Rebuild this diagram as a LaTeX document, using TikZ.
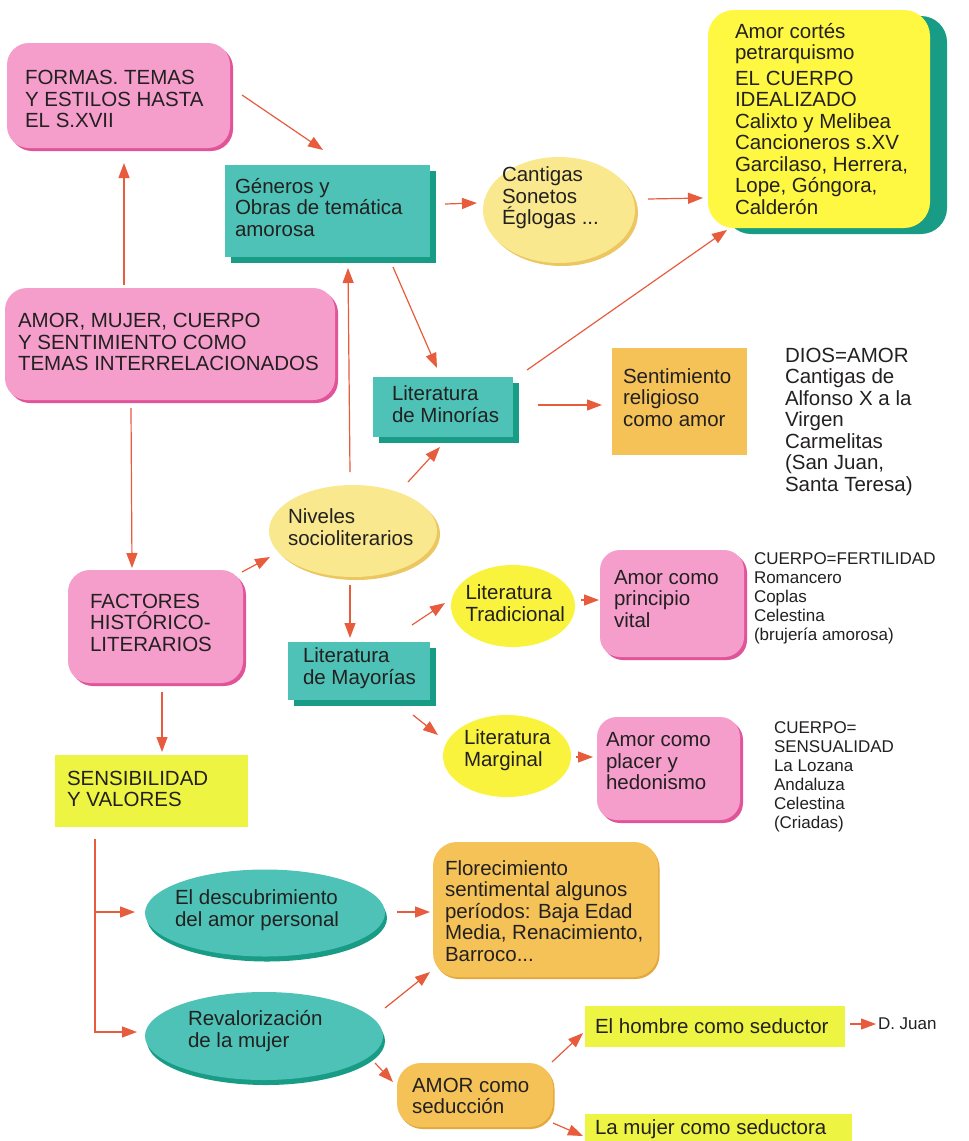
\documentclass[tikz,border=0pt]{standalone}
\usepackage{fontspec}
\setmainfont{Liberation Sans}
\usetikzlibrary{arrows.meta,shapes.geometric,shadows,calc}
\definecolor{pinkF}{RGB}{245,158,204}
\definecolor{pinkS}{RGB}{226,84,154}
\definecolor{tealF}{RGB}{78,194,182}
\definecolor{tealS}{RGB}{24,156,134}
\definecolor{creamF}{RGB}{249,232,142}
\definecolor{creamS}{RGB}{236,198,96}
\definecolor{lemonF}{RGB}{255,248,66}
\definecolor{yelF}{RGB}{250,243,62}
\definecolor{limeF}{RGB}{238,244,66}
\definecolor{orangeF}{RGB}{245,194,88}
\definecolor{orangeS}{RGB}{228,168,62}
\definecolor{arrowC}{RGB}{232,92,62}
\definecolor{txtC}{RGB}{35,32,32}
\tikzset{
  pinkbox/.style={rectangle, rounded corners=22pt, fill=pinkF,
    drop shadow={shadow xshift=3pt, shadow yshift=-3pt, fill=pinkS, opacity=1}},
  tealbox/.style={rectangle, fill=tealF,
    drop shadow={shadow xshift=6pt, shadow yshift=-6pt, fill=tealS, opacity=1}},
  creamell/.style={ellipse, fill=creamF,
    drop shadow={shadow xshift=3pt, shadow yshift=-3pt, fill=creamS, opacity=1}},
  yelell/.style={ellipse, fill=yelF},
  tealell/.style={ellipse, fill=tealF,
    drop shadow={shadow xshift=2pt, shadow yshift=-5pt, fill=tealS, opacity=1}},
  orangebox/.style={rectangle, fill=orangeF},
  orangeround/.style={rectangle, rounded corners=24pt, fill=orangeF,
    drop shadow={shadow xshift=1.5pt, shadow yshift=-2pt, fill=orangeS, opacity=1}},
  limebox/.style={rectangle, fill=limeF},
  sz/.style 2 args={minimum width=#1pt, minimum height=#2pt},
  note/.style={align=left, text=txtC, font=\fontsize{20.5}{21.5}\selectfont},
  notesm/.style={align=left, text=txtC, font=\fontsize{17}{19}\selectfont},
  arr/.style={draw=arrowC, line width=1.2pt, -{Triangle[length=15pt,width=11pt,fill=arrowC]}},
}
\begin{document}
\begin{tikzpicture}[x=1pt,y=-1pt,
  every node/.style={inner sep=0pt, outer sep=0pt},
  every label/.style={inner sep=0pt, align=left, text=txtC, font=\fontsize{20.5}{21.5}\selectfont}]
\fill[white] (0,0) rectangle (969,1141);
\useasboundingbox (0,0) rectangle (969,1141);

% ---------- nodes ----------
\node[pinkbox, sz={223}{105},
  label={[anchor=west,xshift=18pt,yshift=-3.5pt]west:{FORMAS. TEMAS\\Y ESTILOS HASTA\\EL S.XVII}}]
  (formas) at (118.5,95.5) {};

\node[tealbox, sz={205}{92},
  label={[anchor=west,xshift=10pt,yshift=3.5pt]west:{Géneros y\\Obras de temática\\amorosa}}]
  (generos) at (327.5,211) {};

\node[creamell, sz={152}{106},
  label={[anchor=west,xshift=19pt,yshift=12pt]west:{Cantigas\\Sonetos\\Églogas ...}}]
  (cantigas) at (559,210) {};

\node[rectangle, rounded corners=26pt, fill=lemonF,
  drop shadow={shadow xshift=17pt, shadow yshift=-6pt, fill=tealS, opacity=1},
  sz={222}{218},
  label={[anchor=west,xshift=27pt]west:{Amor cortés\\petrarquismo\\[4pt]EL CUERPO\\IDEALIZADO\\Calixto y Melibea\\Cancioneros s.XV\\Garcilaso, Herrera,\\Lope, Góngora,\\Calderón}}]
  (amorc) at (819,119) {};

\node[pinkbox, sz={330}{112},
  label={[anchor=west,xshift=13pt,yshift=2pt]west:{AMOR, MUJER, CUERPO\\Y SENTIMIENTO COMO\\TEMAS INTERRELACIONADOS}}]
  (amor) at (170,344) {};

\node[tealbox, sz={140}{60},
  label={[anchor=west,xshift=19pt,yshift=3pt]west:{Literatura\\de Minorías}}]
  (minor) at (443,407) {};

\node[orangebox, sz={135}{107},
  label={[anchor=west,xshift=11pt,yshift=4pt]west:{Sentimiento\\religioso\\como amor}}]
  (sent) at (679.5,401.5) {};

\node[note, anchor=west] (dios) at (785,421.5)
  {DIOS=AMOR\\Cantigas de\\Alfonso X a la\\Virgen\\Carmelitas\\(San Juan,\\Santa Teresa)};

\node[creamell, sz={168}{92},
  label={[anchor=west,xshift=19pt,yshift=4pt]west:{Niveles\\socioliterarios}}]
  (niveles) at (353,531) {};

\node[pinkbox, sz={175}{113},
  label={[anchor=west,xshift=22pt,yshift=4pt]west:{FACTORES\\HISTÓRICO-\\LITERARIOS}}]
  (factores) at (155.5,626.5) {};

\node[limebox, sz={193}{72},
  label={[anchor=west,xshift=12pt,yshift=2pt]west:{SENSIBILIDAD\\Y VALORES}}]
  (sensib) at (151.5,791) {};

\node[tealbox, sz={142}{58},
  label={[anchor=west,xshift=15pt,yshift=3pt]west:{Literatura\\de Mayorías}}]
  (mayor) at (359,671) {};

\node[yelell, sz={124}{82},
  label={[anchor=west,xshift=14.5pt,yshift=3pt]west:{Literatura\\Tradicional}}]
  (trad) at (513,606) {};

\node[pinkbox, rounded corners=20pt, sz={144}{107},
  label={[anchor=west,xshift=14pt,yshift=4.5pt]west:{Amor como\\principio\\vital}}]
  (vital) at (672,603.5) {};

\node[notesm, anchor=west] (fert) at (754,598)
  {CUERPO=FERTILIDAD\\Romancero\\Coplas\\Celestina\\(brujería amorosa)};

\node[yelell, sz={128}{82},
  label={[anchor=west,xshift=21pt,yshift=6pt]west:{Literatura\\Marginal}}]
  (marg) at (507,756) {};

\node[pinkbox, rounded corners=20pt, sz={143}{103},
  label={[anchor=west,xshift=9pt,yshift=7pt]west:{Amor como\\placer y\\hedonismo}}]
  (placer) at (668.5,768.5) {};

\node[notesm, anchor=west] (sensual) at (774,776.5)
  {CUERPO=\\SENSUALIDAD\\La Lozana\\Andaluza\\Celestina\\(Criadas)};

\node[tealell, sz={240}{87},
  label={[anchor=west,xshift=30pt,yshift=3pt]west:{El descubrimiento\\del amor personal}}]
  (desc) at (265,913) {};

\node[tealell, sz={238}{88},
  label={[anchor=west,xshift=43pt,yshift=5pt]west:{Revalorización\\de la mujer}}]
  (reval) at (264,1036) {};

\node[orangeround, sz={225}{135},
  label={[anchor=west,xshift=12pt,yshift=-1.5pt]west:{Florecimiento\\sentimental algunos\\períodos: Baja Edad\\Media, Renacimiento,\\Barroco...}}]
  (flor) at (545.5,909.5) {};

\node[orangeround, rounded corners=24pt, sz={156}{64},
  label={[anchor=west,xshift=15pt,yshift=-1pt]west:{AMOR como\\seducción}}]
  (amorsed) at (475,1095) {};

\node[limebox, sz={260}{41},
  label={[anchor=west,xshift=10pt]west:{El hombre como seductor}}]
  (hombre) at (715,1026) {};

\node[limebox, sz={267}{42},
  label={[anchor=west,xshift=10pt,yshift=6pt]west:{La mujer como seductora}}]
  (mujer) at (718.5,1135) {};

\node[notesm, anchor=west] (djuan) at (878,1024) {D. Juan};

% ---------- connectors ----------
\draw[arr] ($(formas.east)+(12,-0.5)$) -- ($(generos.north)+(-4.5,-15)$);
\draw[arr] ($(generos.east)+(15,-7)$) -- ($(cantigas.west)+(-6,-7)$);
\draw[arr] ($(cantigas.east)+(13,-11)$) -- ($(amorc.west)+(-5,79)$);
\draw[arr] ($(minor.north east)+(14,-7)$) -- ($(amorc.south west)+(19,2)$);
\draw[arr] ($(generos.south)+(65.5,10)$) -- ($(minor.north)+(-6,-9)$);
\draw[arr] ($(amor.north)+(-46,-3)$) -- ($(formas.south)+(5.5,15)$);
\draw[arr] ($(amor.south)+(-39,8)$) -- ($(factores.north)+(-23.5,-2)$);
\draw[arr] ($(niveles.north)+(-3,-13)$) -- ($(generos.south)+(20.5,11)$);
\draw[arr] ($(factores.north east)+(-1,2)$) -- ($(niveles.west)+(1,26)$);
\draw[arr] ($(niveles.north)+(55,-3)$) -- ($(minor.south)+(-3,10)$);
\draw[arr] ($(niveles.south)+(-3,8)$) -- ($(mayor.north)+(-9,-4)$);
\draw[arr] ($(mayor.north east)+(-18,-17)$) -- ($(trad.west)+(-6,-3)$);
\draw[arr] ($(mayor.south east)+(-17,15)$) -- ($(marg.west)+(-5,-21)$);
\draw[arr] ($(trad.east)+(6,-6)$) -- ($(vital.west)+(-1,-3.5)$);
\draw[arr] ($(marg.east)+(5,1)$) -- ($(placer.west)+(-4,-11.5)$);
\draw[arr] ($(factores.south)+(6.5,9)$) -- ($(sensib.north)+(10.5,-3)$);
\draw[arr] ($(minor.east)+(25,-2)$) -- ($(sent.west)+(-10,3.5)$);

\coordinate (bstart) at ($(sensib.south west)+(40,12)$);
\draw[arr] (bstart) |- ($(desc.west)+(-10,-1)$);
\draw[arr] (bstart) |- ($(reval.west)+(-8,-4)$);

\draw[arr] ($(desc.east)+(12,-1)$) -- ($(flor.west)+(-3,2.5)$);
\draw[arr] ($(reval.east)+(2,-28)$) -- ($(flor.south west)+(-3,-5)$);
\draw[arr] ($(reval.east)+(-8,27)$) -- ($(amorsed.west)+(-4,-13)$);
\draw[arr] ($(amorsed.north east)+(-1,-1)$) -- ($(hombre.west)+(-2,7)$);
\draw[arr] ($(amorsed.south east)+(0,-4)$) -- ($(mujer.west)+(-2,1)$);
\draw[arr] ($(hombre.east)+(5,-2)$) -- ($(djuan.west)+(-2,0)$);
\end{tikzpicture}
\end{document}
